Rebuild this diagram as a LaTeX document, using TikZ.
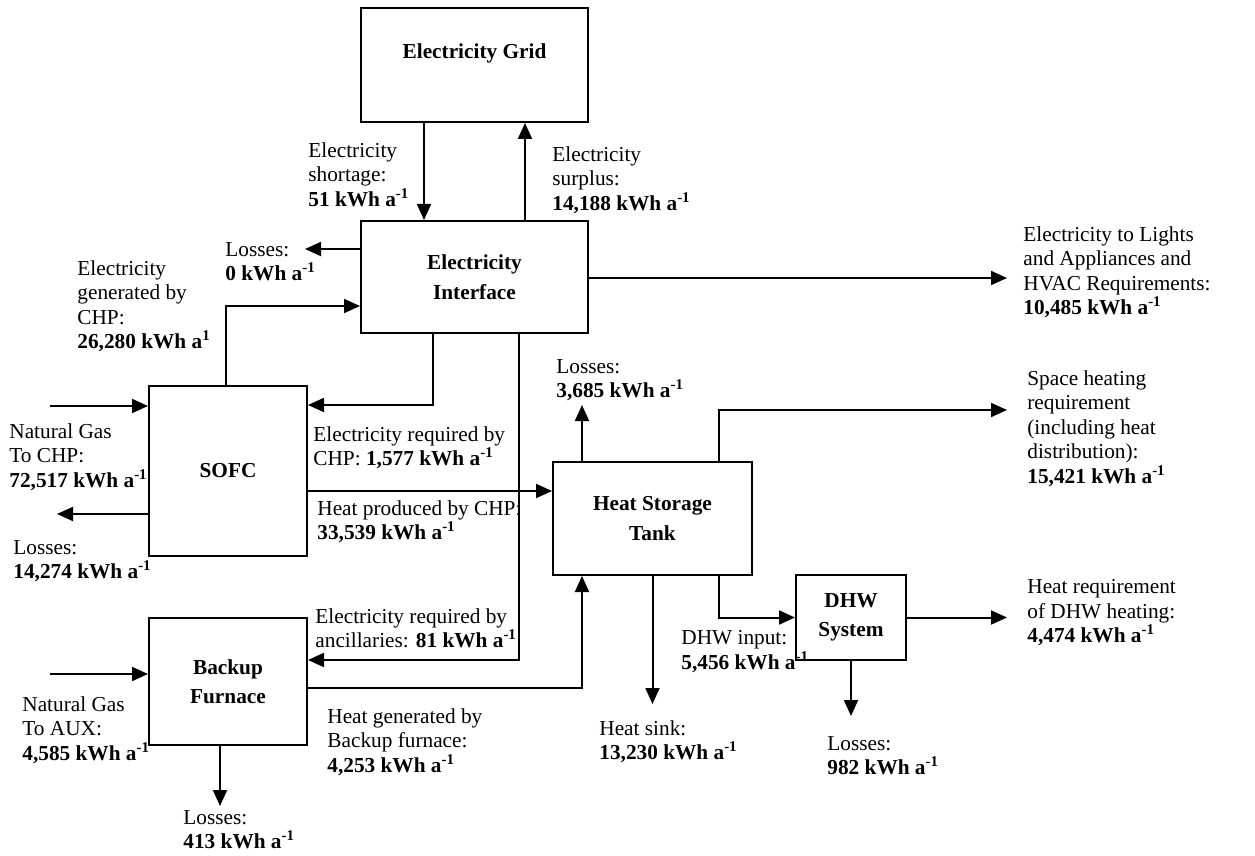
\documentclass[tikz,border=0pt]{standalone}
\usepackage{fontspec}
\setmainfont{Liberation Serif}
\usetikzlibrary{arrows.meta}

\begin{document}
\begin{tikzpicture}[
  x=0.5pt, y=-0.5pt,
  font=\fontsize{10.65}{12.25}\selectfont,
  box/.style={draw, line width=1pt, align=center, inner sep=0pt,
              font=\fontsize{10.65}{14.75}\selectfont\bfseries},
  lbl/.style={anchor=north west, align=left, inner sep=0pt},
  arr/.style={-{Triangle[length=8pt,width=7pt]}, line width=1pt}
]
\useasboundingbox (0,0) rectangle (1255,856);

% Boxes
\node[box, minimum width=113.5pt, minimum height=57pt, text depth=14pt] (grid) at (474.5,65) {Electricity Grid};
\node[box, minimum width=113.5pt, minimum height=56pt] (iface) at (474.5,277) {Electricity\\Interface};
\node[box, minimum width=79pt, minimum height=85pt] (sofc) at (228,471) {SOFC};
\node[box, minimum width=79pt, minimum height=63.5pt] (backup) at (228,681.5) {Backup\\Furnace};
\node[box, minimum width=99.5pt, minimum height=56.5pt] (tank) at (652.5,518.5) {Heat Storage\\Tank};
\node[box, minimum width=55pt, minimum height=42.5pt] (dhw) at (851,617.5) {DHW\\System};

% Labels
\node[lbl] (shortage) at (308,142) {Electricity\\shortage:\\\textbf{51 kWh a\textsuperscript{-1}}};
\node[lbl] (surplus) at (552,146) {Electricity\\surplus:\\\textbf{14,188 kWh a\textsuperscript{-1}}};
\node[lbl] (lossIf) at (225,242) {Losses:\\\textbf{0 kWh a\textsuperscript{-1}}};
\node[lbl] (chpElec) at (77,260) {Electricity\\generated by\\CHP:\\\textbf{26,280 kWh a\textsuperscript{1}}};
\node[lbl] (gasChp) at (9,423) {Natural Gas\\To CHP:\\\textbf{72,517 kWh a\textsuperscript{-1}}};
\node[lbl] (lossSofc) at (13,540) {Losses:\\\textbf{14,274 kWh a\textsuperscript{-1}}};
\node[lbl] (reqChp) at (313,426) {Electricity required by\\CHP: \textbf{1,577 kWh a\textsuperscript{-1}}};
\node[lbl] (heatChp) at (317,500) {Heat produced by CHP:\\\textbf{33,539 kWh a\textsuperscript{-1}}};
\node[lbl] (reqAnc) at (315,608) {Electricity required by\\ancillaries: \textbf{81 kWh a\textsuperscript{-1}}};
\node[lbl] (heatBk) at (327,708) {Heat generated by\\Backup furnace:\\\textbf{4,253 kWh a\textsuperscript{-1}}};
\node[lbl] (gasAux) at (22,696) {Natural Gas\\To AUX:\\\textbf{4,585 kWh a\textsuperscript{-1}}};
\node[lbl] (lossBk) at (183,810) {Losses:\\\textbf{413 kWh a\textsuperscript{-1}}};
\node[lbl] (lossTank) at (556,359) {Losses:\\\textbf{3,685 kWh a\textsuperscript{-1}}};
\node[lbl] (sink) at (599,720) {Heat sink:\\\textbf{13,230 kWh a\textsuperscript{-1}}};
\node[lbl] (dhwIn) at (681,630) {DHW input:\\\textbf{5,456 kWh a\textsuperscript{-1}}};
\node[lbl] (lossDhw) at (827,736) {Losses:\\\textbf{982 kWh a\textsuperscript{-1}}};
\node[lbl] (lights) at (1023,226) {Electricity to Lights\\and Appliances and\\HVAC Requirements:\\\textbf{10,485 kWh a\textsuperscript{-1}}};
\node[lbl] (space) at (1027,370) {Space heating\\requirement\\(including heat\\distribution):\\\textbf{15,421 kWh a\textsuperscript{-1}}};
\node[lbl] (heatReq) at (1027,579) {Heat requirement\\of DHW heating:\\\textbf{4,474 kWh a\textsuperscript{-1}}};

% Free ends
\coordinate (gasSofc) at (50,406);
\coordinate (gasBk) at (50,674);
\coordinate (lossSofcEnd) at (57,514);
\coordinate (lossIfEnd) at (305,249);
\coordinate (lossBkEnd) at (220,806);
\coordinate (lossTankEnd) at (582,405);
\coordinate (sinkEnd) at (651,704);
\coordinate (lossDhwEnd) at (852,716);
\coordinate (lightsEnd) at (1007,278);
\coordinate (spaceEnd) at (1007,410);
\coordinate (dhwOutEnd) at (1007,617);

% Arrows
\draw[arr] ([xshift=-25.25pt]grid.south) -- ([xshift=-25.25pt]iface.north);
\draw[arr] ([xshift=25.25pt]iface.north) -- ([xshift=25.25pt]grid.south);
\draw[arr] (iface.west |- lossIfEnd) -- (lossIfEnd);
\draw[arr] ([xshift=-1pt]sofc.north) |- ([yshift=-14.5pt]iface.west);
\draw[arr] ([xshift=-20.75pt]iface.south) |- ([yshift=33pt]sofc.east);
\draw[arr] ([xshift=22.25pt]iface.south) |- ([yshift=10.75pt]backup.east);
\draw[arr] (iface.east |- lightsEnd) -- (lightsEnd);
\draw[arr] (gasSofc) -- (gasSofc -| sofc.west);
\draw[arr] (sofc.west |- lossSofcEnd) -- (lossSofcEnd);
\draw[arr] ([yshift=-10pt]sofc.east) -- ([yshift=13.75pt]tank.west);
\draw[arr] ([yshift=-3.25pt]backup.east) -| ([xshift=-35.25pt]tank.south);
\draw[arr] ([xshift=-35.25pt]tank.north) -- (lossTankEnd);
\draw[arr] ([xshift=33.25pt]tank.north) |- (spaceEnd);
\draw[arr] (tank.south) -- (tank.south |- sinkEnd);
\draw[arr] ([xshift=33.25pt]tank.south) |- (dhw.west);
\draw[arr] (dhw.east) -- (dhw.east -| dhwOutEnd);
\draw[arr] (dhw.south) -- (dhw.south |- lossDhwEnd);
\draw[arr] (gasBk) -- (gasBk -| backup.west);
\draw[arr] ([xshift=-4pt]backup.south) -- (lossBkEnd);
\end{tikzpicture}
\end{document}
